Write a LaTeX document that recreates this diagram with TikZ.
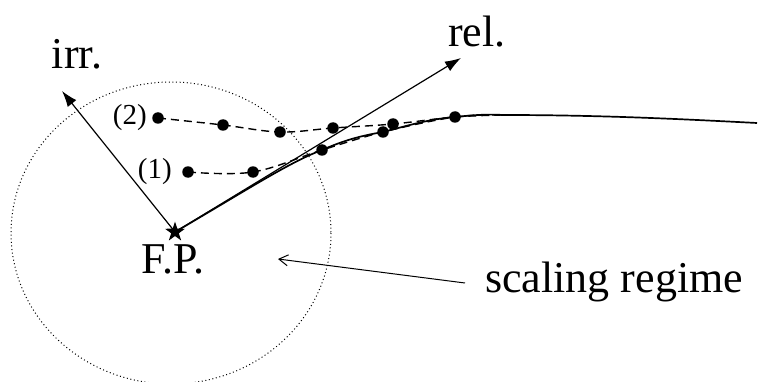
\documentclass[tikz,border=0pt]{standalone}
\usepackage{fontspec}
\setmainfont{Liberation Serif}
\usetikzlibrary{arrows.meta,shapes.geometric}
\tikzset{
  bigtxt/.style={inner sep=0pt,font=\fontsize{44}{44}\selectfont},
  smalltxt/.style={inner sep=0pt,font=\fontsize{29}{29}\selectfont},
  flow/.style={line width=1.4pt,dash pattern=on 8pt off 5pt},
  traj/.style={line width=1.7pt},
  axis/.style={line width=1.2pt,-{Latex[length=16pt,width=11pt]}},
  pointer/.style={line width=1pt,-{Straight Barb[length=9pt,width=11pt]}},
  regime/.style={line width=1pt,dash pattern=on 1pt off 2.6pt},
  dot/.style={circle,fill=black,inner sep=0pt,minimum size=11.5pt},
}
\begin{document}
\begin{tikzpicture}[x=1pt,y=-1pt]
\useasboundingbox (0,0) rectangle (759,382);
% scaling regime region
\draw[regime] (171,233) ellipse [x radius=160, y radius=151];
% fixed point
\node[star,star points=5,star point ratio=2.6,fill=black,inner sep=0pt,minimum size=21pt] (fp) at (175,232) {};
\node[bigtxt,anchor=base] (fplab) at (173,273) {F.P.};
% axes
\coordinate (irrtip) at (62,91);
\coordinate (reltip) at (461,58);
\draw[axis] (fp.center) -- (irrtip);
\draw[axis] (fp.center) -- (reltip);
\node[bigtxt,anchor=base] (irr) at (77,69) {irr.};
\node[bigtxt,anchor=base] (rel) at (477,47) {rel.};
% dot positions
\coordinate (a1) at (158,118);
\coordinate (a2) at (223,125);
\coordinate (a3) at (280,132);
\coordinate (a4) at (333,128);
\coordinate (a5) at (393,124);
\coordinate (b1) at (188,172);
\coordinate (b2) at (253,172);
\coordinate (b3) at (322,150);
\coordinate (b4) at (383,132);
\coordinate (c)  at (455,117);
\coordinate (m) at (503,115);
\coordinate (far) at (757,123);
% renormalized trajectory
\draw[traj] (fp.center) .. controls (250,188) and (290,162) .. (b3)
  .. controls (345,140) and (360,136) .. (b4)
  .. controls (410,125) and (430,119) .. (c)
  .. controls (474,115) and (488,114) .. (m)
  .. controls (600,115) and (680,119) .. (far);
% flows
\draw[flow] plot[smooth,tension=0.6] coordinates {(a1) (a2) (a3) (a4) (a5) (c) (m)};
\draw[flow] plot[smooth,tension=0.6] coordinates {(b1) (b2) (b3) (b4) (c) (m)};
% dots on top
\foreach \n in {a1,a2,a3,a4,a5,b1,b2,b3,b4,c} \node[dot] (p\n) at (\n) {};
\node[smalltxt,anchor=east] (lab2) at (147,118) {(2)};
\node[smalltxt,anchor=east] (lab1) at (172,172) {(1)};
% scaling regime label
\node[bigtxt,anchor=base west] (sr) at (485,292) {scaling regime};
\coordinate (srtail) at (465,283);
\coordinate (srtip) at (278,259);
\draw[pointer] (srtail) -- (srtip);
\end{tikzpicture}
\end{document}
